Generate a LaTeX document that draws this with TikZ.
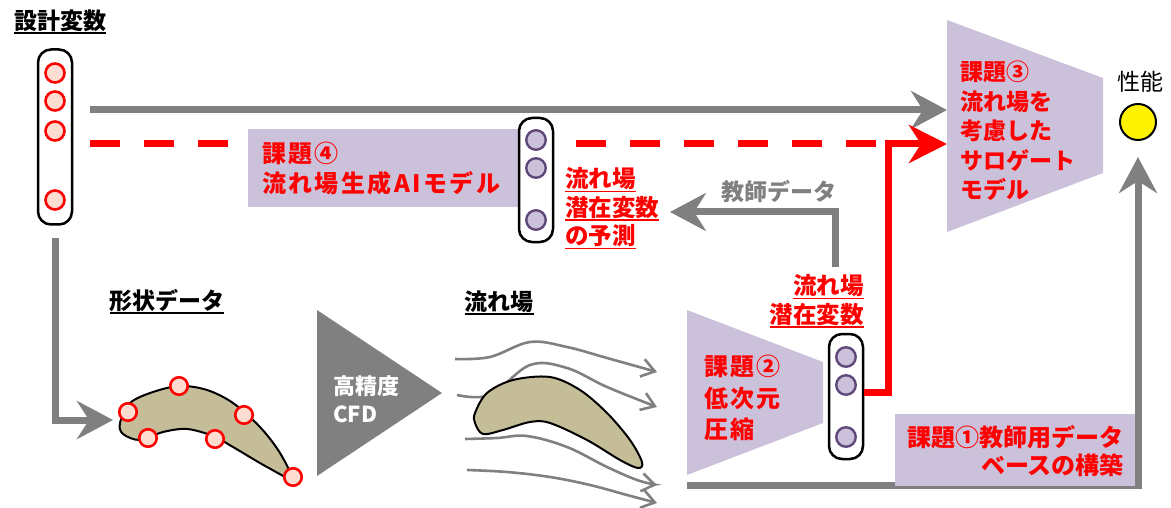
\documentclass[tikz,border=0pt]{standalone}
\usepackage{fontspec}
\setmainfont{Noto Sans CJK JP}
\newfontfamily\jpwide{Noto Sans CJK JP}[LetterSpace=10]
\usetikzlibrary{arrows.meta}
\definecolor{lav}{RGB}{204,193,218}
\definecolor{lavdark}{RGB}{96,74,123}
\definecolor{pinkfill}{RGB}{253,220,210}
\definecolor{bladefill}{RGB}{196,189,151}
\definecolor{arrowgray}{RGB}{128,128,128}
\newcommand\fsz[2]{\fontsize{#1}{#2}\selectfont}
\newcommand\ulbox[2][1.5pt]{\setbox0\hbox{#2}\rlap{\rule[-4.5pt]{\wd0}{#1}}\box0}

\begin{document}
\begin{tikzpicture}[x=1pt,y=-1pt,
  every node/.style={inner sep=0pt},
  pill/.style={draw=black,line width=2.5pt,rounded corners=13pt,fill=white,minimum width=34pt},
  rdot/.style={circle,draw=red,fill=pinkfill,line width=2.6pt,minimum size=19pt},
  pdot/.style={circle,draw=lavdark,fill=lav,line width=2.4pt,minimum size=19.5pt},
  taskbox/.style={fill=lav},
  garrow/.style={draw=arrowgray,line width=7pt,-{Stealth[length=36pt,width=38pt,inset=12pt]}},
  rarrow/.style={draw=red,line width=7pt,-{Stealth[length=38pt,width=38pt,inset=12pt]}},
  rdash/.style={draw=red,line width=7pt,dash pattern=on 30pt off 24pt},
  flow/.style={draw=arrowgray,line width=2.6pt,-{Straight Barb[length=13pt,width=18pt]}},
  blade/.style={draw=black,line width=2pt,fill=bladefill},
  rtext/.style={text=red,font=\fsz{24}{30}\bfseries,align=left},
  rlabel/.style={text=red,font=\fsz{23.5}{28.5}\bfseries},
  title/.style={font=\fsz{23}{26}\bfseries}]
\useasboundingbox (0,0) rectangle (1171,508);

% design variables
\node[title] (dvt) at (60,22) {\ulbox[2pt]{設計変数}};
\node[pill,minimum height=175pt] (dv) at (55,137) {};
\foreach \y [count=\i] in {73,101,131,200}
  \node[rdot] (dv\i) at (55,\y) {};

% surrogate model
\fill[lav] (947,20) -- (1103,78) -- (1103,173) -- (947,232) -- cycle;
\node[rtext,anchor=west,font=\fsz{23}{29.5}\bfseries] (s3) at (960,131)
  {課題③\\流れ場を\\考慮した\\サロゲート\\モデル};
\coordinate (s3a) at (947,110);
\coordinate (s3b) at (947,144);
\node[font=\fsz{23}{26}] (perft) at (1140,82) {性能};
\node[circle,draw=black,line width=2pt,fill=yellow,minimum size=36pt] (perf) at (1138,122) {};

\draw[garrow] ([xshift=17pt]dv.east |- s3a) -- (s3a);
\coordinate (rbend) at (888,144);
\draw[rdash] ([xshift=17pt]dv.east |- rbend) -- (rbend);

% generative model
\node[taskbox,anchor=north west,minimum width=270pt,minimum height=78pt] (t4) at (248,129) {};
\node[rtext,anchor=west,font=\fsz{24}{30}\jpwide\bfseries] (t4t) at ([xshift=14pt]t4.west)
  {課題④\\流れ場生成AIモデル};
\node[pill,minimum height=124pt] (mp) at (536,180) {};
\foreach \y [count=\i] in {140,168,220}
  \node[pdot] (mp\i) at (536,\y) {};
\node[rlabel,anchor=west,align=left] (pred) at (565,208.5)
  {\ulbox{流れ場}\\\ulbox{潜在変数}\\\ulbox{の予測}};

% shape data
\node[title] (shpt) at (167,302) {\ulbox[2pt]{形状データ}};
\coordinate (shin) at (113,420);
\draw[garrow] ([yshift=-12pt]dv.south) |- (shin);
\draw[blade] plot[smooth cycle,tension=0.55] coordinates {(120,423) (130,403) (153,392) (180,386)
  (207,390) (233,403) (260,427) (280,453) (291,478) (267,467) (233,447) (213,436) (187,429)
  (163,432) (140,440) (123,434)};
\foreach \x/\y [count=\i] in {128/412,179/386,244/415,148/438,215/439,293/477}
  \node[rdot,minimum size=17.5pt] (sh\i) at (\x,\y) {};

% CFD
\fill[arrowgray] (317,310) -- (442,393) -- (317,476) -- cycle;
\node[text=white,font=\fsz{22}{28}\bfseries,anchor=west,align=left] (cfd) at (333,399) {高精度\\CFD};

% flow field
\node[title] (flwt) at (499,303) {\ulbox[2pt]{流れ場}};
\draw[flow] plot[smooth,tension=0.6] coordinates {(455,359) (490,357) (530,342) (567,347) (607,358) (657,372)};
\draw[flow] plot[smooth,tension=0.6] coordinates {(457,395) (490,395) (530,365) (567,368) (607,387) (657,407)};
\draw[flow] plot[smooth,tension=0.6] coordinates {(465,439) (497,438) (527,436) (567,447) (607,467) (637,480) (657,485)};
\draw[flow] plot[smooth,tension=0.6] coordinates {(467,470) (507,472) (550,477) (590,485) (627,495) (657,503)};
\draw[blade] plot[smooth cycle,tension=0.55] coordinates {(475,413) (487,393) (513,380) (550,377)
  (580,390) (607,413) (630,440) (642,462) (638,468) (620,460) (587,440) (550,423) (530,422)
  (503,430) (483,434) (475,423)};

% database
\coordinate (s2base) at (687,485);
\draw[garrow] (s2base) -| ([yshift=-16pt]perf.south);
\node[taskbox,anchor=north west,minimum width=240pt,minimum height=72pt] (t1) at (895,414) {};
\node[rtext,anchor=east,align=right,font=\fsz{24}{28}\bfseries] (t1t) at (1124,451)
  {課題①教師用データ\\ベースの構築};

% reduced order compression
\fill[lav] (687,310) -- (823,362) -- (823,423) -- (687,475) -- cycle;
\node[rtext,anchor=west,font=\fsz{24}{31.5}\jpwide\bfseries] (s2) at (704,398) {課題②\\低次元\\圧縮};
\node[pill,minimum height=125pt] (lp) at (846,396.5) {};
\foreach \y [count=\i] in {357,385,437}
  \node[pdot] (lp\i) at (846,\y) {};
\node[rlabel,anchor=east,align=right] (lat) at (864,301) {\ulbox{流れ場}\\\ulbox{潜在変数}};

\draw[rarrow] ([yshift=-7pt]lp.east |- lp2) -| (rbend) -- (s3b);

% training data
\coordinate (tchout) at (835,267);
\coordinate (tchin) at (670,212);
\draw[garrow] (tchout) |- (tchin)
  node[pos=0.67,above=6pt,text=arrowgray,font=\fsz{23}{26}\bfseries] (tch) {教師データ};
\end{tikzpicture}
\end{document}
